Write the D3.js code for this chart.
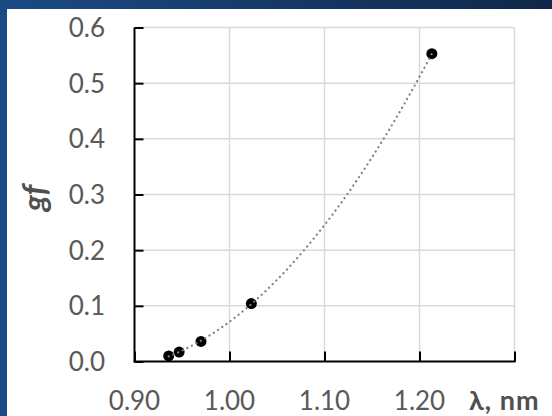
<!DOCTYPE html>
<html><head><meta charset="utf-8">
<script src="https://cdn.jsdelivr.net/npm/d3@7"></script>
<style>html,body{margin:0;padding:0;background:#fff;}svg{display:block;}</style>
</head><body>
<script>
const lambda = [0.936, 0.947, 0.970, 1.023, 1.213];
const gf = [0.010, 0.017, 0.036, 0.104, 0.553];
const xTicks = [0.90, 1.00, 1.10, 1.20, 1.30];
const xTickLabels = ["0.90", "1.00", "1.10", "1.20", ""];
const yTicks = [0, 0.1, 0.2, 0.3, 0.4, 0.5, 0.6];
const xTitle = "λ, nm";
const yTitle = "gf";

const W = 552, H = 416;
const svg = d3.select("body").append("svg").attr("width", W).attr("height", H);
const defs = svg.append("defs");
const grad = defs.append("linearGradient").attr("id", "bg").attr("x1", 0).attr("y1", 0).attr("x2", 1).attr("y2", 0);
grad.append("stop").attr("offset", "0%").attr("stop-color", "#1c4a86");
grad.append("stop").attr("offset", "100%").attr("stop-color", "#0f2849");
svg.append("rect").attr("width", W).attr("height", H).attr("fill", "url(#bg)");
svg.append("rect").attr("x", 7).attr("y", 9).attr("width", W - 7).attr("height", H - 9).attr("fill", "#fff");

const x = d3.scaleLinear().domain([0.9, 1.3]).range([134.5, 514.5]);
const y = d3.scaleLinear().domain([0, 0.6]).range([361.5, 27.5]);

// gridlines
const g = svg.append("g");
g.selectAll(".vg").data(xTicks.slice(1)).join("line")
  .attr("x1", d => x(d)).attr("x2", d => x(d)).attr("y1", y(0)).attr("y2", y(0.6))
  .attr("stroke", "#d9d9d9").attr("stroke-width", 1.5);
g.selectAll(".hg").data(yTicks.slice(1)).join("line")
  .attr("x1", x(0.9)).attr("x2", x(1.3)).attr("y1", d => y(d)).attr("y2", d => y(d))
  .attr("stroke", "#d9d9d9").attr("stroke-width", 1.5);

// axes
const font = "Lato, 'Open Sans', sans-serif";
const yAxis = svg.append("g").attr("transform", `translate(${x(0.9)},0)`)
  .call(d3.axisRight(y).tickValues(yTicks).tickSize(9).tickFormat(""));
yAxis.selectAll("path, line").attr("stroke", "#000").attr("stroke-width", 2);
yAxis.select(".domain").attr("d", `M0,${y(0.6)}V${y(0)}`);

const xAxis = svg.append("g").attr("transform", `translate(0,${y(0)})`)
  .call(d3.axisTop(x).tickValues(xTicks).tickSize(10).tickFormat(""));
xAxis.selectAll("path, line").attr("stroke", "#000").attr("stroke-width", 2);
xAxis.select(".domain").attr("d", `M${x(0.9) - 1},0H${x(1.3) + 1}`);

// tick labels
svg.append("g").selectAll("text").data(yTicks).join("text")
  .attr("x", 105).attr("y", d => y(d)).attr("dy", "0.36em")
  .attr("text-anchor", "end").attr("font-family", font).attr("font-size", 26)
  .attr("fill", "#595959").text(d => d3.format(".1f")(d));
svg.append("g").selectAll("text").data(xTicks).join("text")
  .attr("x", d => x(d)).attr("y", 410)
  .attr("text-anchor", "middle").attr("font-family", font).attr("font-size", 26)
  .attr("fill", "#595959").text((d, i) => xTickLabels[i]);

// titles
svg.append("text").attr("x", 469).attr("y", 410).attr("font-family", font)
  .attr("font-size", 27).attr("font-weight", "bold").attr("letter-spacing", 1).attr("fill", "#505050").text(xTitle);
svg.append("text").attr("transform", "translate(46,198) rotate(-90)")
  .attr("text-anchor", "middle").attr("font-family", font)
  .attr("font-size", 32).attr("font-weight", "bold").attr("font-style", "italic")
  .attr("fill", "#505050").text(yTitle);

// points
const pts = lambda.map((l, i) => ({ l, v: gf[i] }));
svg.append("g").selectAll("circle").data(pts).join("circle")
  .attr("cx", d => x(d.l)).attr("cy", d => y(d.v)).attr("r", 5.5).attr("fill", "#000");

// quadratic least-squares trendline
function polyfit2(xs, ys) {
  let S = [0, 0, 0, 0, 0], T = [0, 0, 0];
  xs.forEach((xv, i) => {
    for (let k = 0; k < 5; k++) S[k] += Math.pow(xv, k);
    for (let k = 0; k < 3; k++) T[k] += ys[i] * Math.pow(xv, k);
  });
  const A = [[S[0], S[1], S[2], T[0]], [S[1], S[2], S[3], T[1]], [S[2], S[3], S[4], T[2]]];
  for (let c = 0; c < 3; c++) {
    for (let r = c + 1; r < 3; r++) {
      const f = A[r][c] / A[c][c];
      for (let k = c; k < 4; k++) A[r][k] -= f * A[c][k];
    }
  }
  const s = [0, 0, 0];
  for (let r = 2; r >= 0; r--) {
    let v = A[r][3];
    for (let k = r + 1; k < 3; k++) v -= A[r][k] * s[k];
    s[r] = v / A[r][r];
  }
  return s;
}
const c = polyfit2(lambda, gf);
const x0 = d3.min(lambda), x1 = d3.max(lambda);
const trend = d3.range(0, 101).map(i => {
  const xv = x0 + (x1 - x0) * i / 100;
  return [xv, c[0] + c[1] * xv + c[2] * xv * xv];
});
svg.append("path").datum(trend)
  .attr("d", d3.line().x(d => x(d[0])).y(d => y(d[1])))
  .attr("fill", "none").attr("stroke", "#808080").attr("stroke-width", 2.2)
  .attr("stroke-linecap", "round").attr("stroke-dasharray", "0.1 5");
</script>
</body></html>
